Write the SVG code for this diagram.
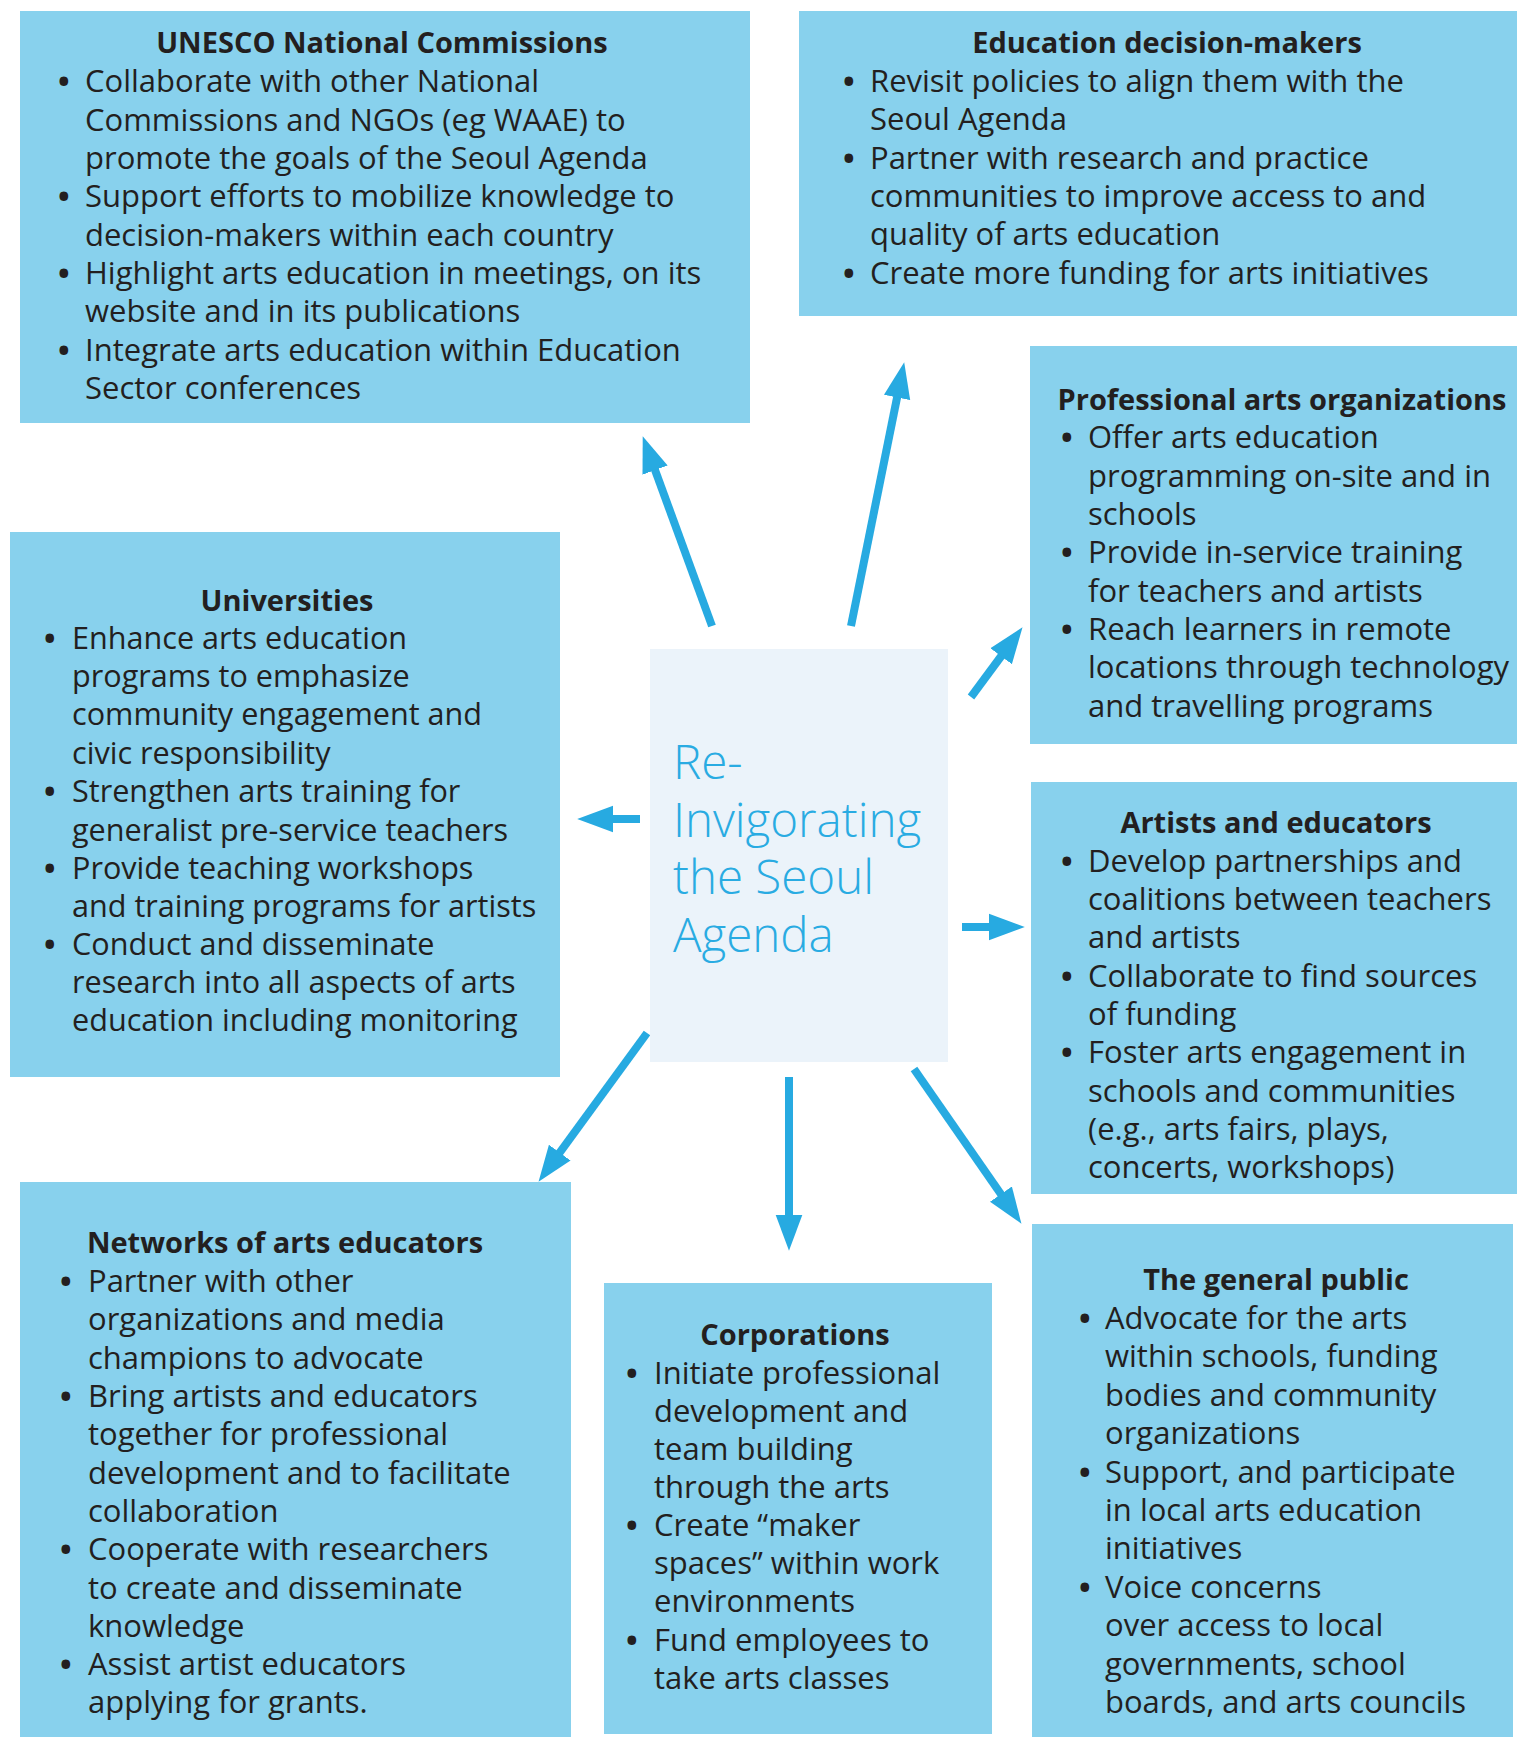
<svg xmlns="http://www.w3.org/2000/svg" width="1517" height="1737" viewBox="0 0 1517 1737">
<style>
.box{fill:#88D1ED}
.ctr{fill:#EBF3FA}
.t{font-family:"Open Sans","Noto Sans","Liberation Sans",sans-serif;font-size:31px;fill:#231F20}
.b{font-weight:700}
.h{font-family:"Open Sans","Noto Sans","Liberation Sans",sans-serif;font-size:29px;font-weight:700;fill:#231F20;text-anchor:middle}
.c{font-family:"Open Sans","Noto Sans","Liberation Sans",sans-serif;font-size:47.5px;font-weight:300;fill:#29ABE2}
.arr{stroke:#27AAE1;stroke-width:8;fill:none;marker-end:url(#ah)}
</style>
<defs>
<marker id="ah" markerUnits="userSpaceOnUse" markerWidth="36" markerHeight="28" viewBox="0 0 35 26" refX="7" refY="13" orient="auto">
<path d="M0,0 L35,13 L0,26 z" fill="#27AAE1"/>
</marker>
</defs>
<rect width="1517" height="1737" fill="#FFFFFF"/>

<g id="connectors">
<line class="arr" x1="712" y1="626" x2="652.6" y2="463.3"/>
<line class="arr" x1="851" y1="626" x2="898.5" y2="390.4"/>
<line class="arr" x1="971" y1="697" x2="1005.4" y2="650.5"/>
<line class="arr" x1="640" y1="819" x2="606" y2="819"/>
<line class="arr" x1="962" y1="927" x2="996" y2="927"/>
<line class="arr" x1="647" y1="1033" x2="555.5" y2="1158.4"/>
<line class="arr" x1="789" y1="1077" x2="789" y2="1222"/>
<line class="arr" x1="914" y1="1069" x2="1005" y2="1200"/>
</g>

<g id="unesco">
<rect class="box" x="20" y="11" width="730" height="412"/>
<text class="h" x="382" y="53">UNESCO National Commissions</text>
<text class="t">
<tspan class="b" x="58" y="92">•</tspan><tspan x="85" y="92">Collaborate with other National</tspan>
<tspan x="85" y="130.5">Commissions and NGOs (eg WAAE) to</tspan>
<tspan x="85" y="169">promote the goals of the Seoul Agenda</tspan>
<tspan class="b" x="58" y="207">•</tspan><tspan x="85" y="207">Support efforts to mobilize knowledge to</tspan>
<tspan x="85" y="245.5">decision-makers within each country</tspan>
<tspan class="b" x="58" y="284">•</tspan><tspan x="85" y="284">Highlight arts education in meetings, on its</tspan>
<tspan x="85" y="322">website and in its publications</tspan>
<tspan class="b" x="58" y="360.5">•</tspan><tspan x="85" y="360.5">Integrate arts education within Education</tspan>
<tspan x="85" y="399">Sector conferences</tspan>
</text>
</g>

<g id="education-decision-makers">
<rect class="box" x="799" y="11" width="718" height="305"/>
<text class="h" x="1167" y="53">Education decision-makers</text>
<text class="t">
<tspan class="b" x="843" y="92">•</tspan><tspan x="870" y="92">Revisit policies to align them with the</tspan>
<tspan x="870" y="130">Seoul Agenda</tspan>
<tspan class="b" x="843" y="168.5">•</tspan><tspan x="870" y="168.5">Partner with research and practice</tspan>
<tspan x="870" y="207">communities to improve access to and</tspan>
<tspan x="870" y="245">quality of arts education</tspan>
<tspan class="b" x="843" y="283.5">•</tspan><tspan x="870" y="283.5">Create more funding for arts initiatives</tspan>
</text>
</g>

<g id="professional-arts-organizations">
<rect class="box" x="1030" y="346" width="487" height="398"/>
<text class="h" x="1282" y="410">Professional arts organizations</text>
<text class="t">
<tspan class="b" x="1061" y="448">•</tspan><tspan x="1088" y="448">Offer arts education</tspan>
<tspan x="1088" y="487">programming on-site and in</tspan>
<tspan x="1088" y="525">schools</tspan>
<tspan class="b" x="1061" y="563">•</tspan><tspan x="1088" y="563">Provide in-service training</tspan>
<tspan x="1088" y="602">for teachers and artists</tspan>
<tspan class="b" x="1061" y="640">•</tspan><tspan x="1088" y="640">Reach learners in remote</tspan>
<tspan x="1088" y="678">locations through technology</tspan>
<tspan x="1088" y="717">and travelling programs</tspan>
</text>
</g>

<g id="universities">
<rect class="box" x="10" y="532" width="550" height="545"/>
<text class="h" x="287" y="611">Universities</text>
<text class="t" style="font-size:30.6px">
<tspan class="b" x="44" y="649">•</tspan><tspan x="72" y="649">Enhance arts education</tspan>
<tspan x="72" y="687">programs to emphasize</tspan>
<tspan x="72" y="725">community engagement and</tspan>
<tspan x="72" y="764">civic responsibility</tspan>
<tspan class="b" x="44" y="802">•</tspan><tspan x="72" y="802">Strengthen arts training for</tspan>
<tspan x="72" y="841">generalist pre-service teachers</tspan>
<tspan class="b" x="44" y="879">•</tspan><tspan x="72" y="879">Provide teaching workshops</tspan>
<tspan x="72" y="917">and training programs for artists</tspan>
<tspan class="b" x="44" y="955">•</tspan><tspan x="72" y="955">Conduct and disseminate</tspan>
<tspan x="72" y="993">research into all aspects of arts</tspan>
<tspan x="72" y="1031">education including monitoring</tspan>
</text>
</g>

<g id="center">
<rect class="ctr" x="650" y="649" width="298" height="413"/>
<text class="c">
<tspan x="673" y="779">Re-</tspan>
<tspan x="673" y="837">Invigorating</tspan>
<tspan x="673" y="894">the Seoul</tspan>
<tspan x="673" y="952">Agenda</tspan>
</text>
</g>

<g id="artists-and-educators">
<rect class="box" x="1031" y="782" width="486" height="412"/>
<text class="h" x="1276" y="833">Artists and educators</text>
<text class="t">
<tspan class="b" x="1061" y="872">•</tspan><tspan x="1088" y="872">Develop partnerships and</tspan>
<tspan x="1088" y="910">coalitions between teachers</tspan>
<tspan x="1088" y="948">and artists</tspan>
<tspan class="b" x="1061" y="987">•</tspan><tspan x="1088" y="987">Collaborate to find sources</tspan>
<tspan x="1088" y="1025">of funding</tspan>
<tspan class="b" x="1061" y="1063">•</tspan><tspan x="1088" y="1063">Foster arts engagement in</tspan>
<tspan x="1088" y="1102">schools and communities</tspan>
<tspan x="1088" y="1140">(e.g., arts fairs, plays,</tspan>
<tspan x="1088" y="1178">concerts, workshops)</tspan>
</text>
</g>

<g id="networks-of-arts-educators">
<rect class="box" x="20" y="1182" width="551" height="555"/>
<text class="h" x="285" y="1253">Networks of arts educators</text>
<text class="t">
<tspan class="b" x="60" y="1292">•</tspan><tspan x="88" y="1292">Partner with other</tspan>
<tspan x="88" y="1330">organizations and media</tspan>
<tspan x="88" y="1368.5">champions to advocate</tspan>
<tspan class="b" x="60" y="1407">•</tspan><tspan x="88" y="1407">Bring artists and educators</tspan>
<tspan x="88" y="1445">together for professional</tspan>
<tspan x="88" y="1483.5">development and to facilitate</tspan>
<tspan x="88" y="1522">collaboration</tspan>
<tspan class="b" x="60" y="1560">•</tspan><tspan x="88" y="1560">Cooperate with researchers</tspan>
<tspan x="88" y="1598.5">to create and disseminate</tspan>
<tspan x="88" y="1637">knowledge</tspan>
<tspan class="b" x="60" y="1675">•</tspan><tspan x="88" y="1675">Assist artist educators</tspan>
<tspan x="88" y="1713">applying for grants.</tspan>
</text>
</g>

<g id="corporations">
<rect class="box" x="604" y="1283" width="388" height="451"/>
<text class="h" x="795" y="1345">Corporations</text>
<text class="t">
<tspan class="b" x="626" y="1384">•</tspan><tspan x="654" y="1384">Initiate professional</tspan>
<tspan x="654" y="1422">development and</tspan>
<tspan x="654" y="1460">team building</tspan>
<tspan x="654" y="1498">through the arts</tspan>
<tspan class="b" x="626" y="1536">•</tspan><tspan x="654" y="1536">Create “maker</tspan>
<tspan x="654" y="1574">spaces” within work</tspan>
<tspan x="654" y="1612">environments</tspan>
<tspan class="b" x="626" y="1651">•</tspan><tspan x="654" y="1651">Fund employees to</tspan>
<tspan x="654" y="1689">take arts classes</tspan>
</text>
</g>

<g id="general-public">
<rect class="box" x="1032" y="1224" width="481" height="513"/>
<text class="h" x="1276" y="1290">The general public</text>
<text class="t">
<tspan class="b" x="1079" y="1329">•</tspan><tspan x="1105" y="1329">Advocate for the arts</tspan>
<tspan x="1105" y="1367">within schools, funding</tspan>
<tspan x="1105" y="1406">bodies and community</tspan>
<tspan x="1105" y="1444">organizations</tspan>
<tspan class="b" x="1079" y="1483">•</tspan><tspan x="1105" y="1483">Support, and participate</tspan>
<tspan x="1105" y="1521">in local arts education</tspan>
<tspan x="1105" y="1559">initiatives</tspan>
<tspan class="b" x="1079" y="1598">•</tspan><tspan x="1105" y="1598">Voice concerns</tspan>
<tspan x="1105" y="1636">over access to local</tspan>
<tspan x="1105" y="1675">governments, school</tspan>
<tspan x="1105" y="1713">boards, and arts councils</tspan>
</text>
</g>
</svg>
